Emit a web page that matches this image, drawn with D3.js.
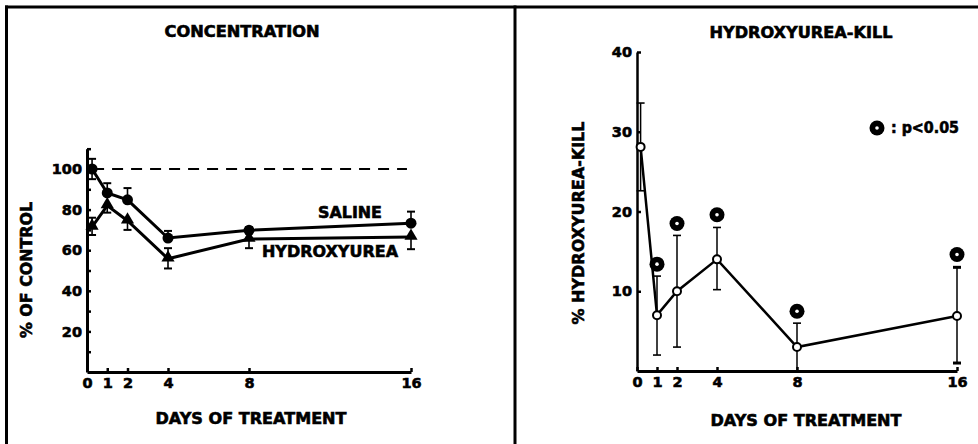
<!DOCTYPE html>
<html>
<head>
<meta charset="utf-8">
<script src="https://cdn.jsdelivr.net/npm/d3@7"></script>
<style>
  body { margin: 0; background: #fff; }
  svg { display: block; }
  text { font-family: "DejaVu Sans", sans-serif; font-weight: bold; fill: #000;
         stroke: #000; stroke-width: 0.6px; paint-order: stroke; }
  .axis path, .axis line { stroke: #000; }
  .axis text { font-size: 14.5px; font-family: "DejaVu Sans", sans-serif; font-weight: bold; }
</style>
</head>
<body>
<svg id="chart"></svg>
<script>
// days of treatment
var days = [0, 1, 2, 4, 8, 16];

// left panel: concentration, % of control
var salineMean = [100, 88.2, 84.8, 66, 69.8, 73.3];
var salineErrHi = [5, 4.8, 5.8, 3.5, 1.5, 5.7];
var salineErrLo = [5, 0, 0, 0, 0, 0];
var hydroxyMean = [71.5, 82, 74.5, 55.8, 65.5, 66.5];
var hydroxyErrHi = [4.5, 0, 0, 5.2, 0, 0];
var hydroxyErrLo = [4, 3.5, 4.5, 4.8, 4.5, 6];
var leftTicks = [10, 20, 30, 40, 50, 60, 70, 80, 90, 100, 110];

// right panel: % hydroxyurea-kill
var killMean = [28.1, 7, 10, 14, 3, 6.9];
var killHi = [33.6, 11.9, 17, 18, 6, 13];
var killLo = [22.6, 2, 3, 10.2, 0, 1];
var sigDays = [1, 2, 4, 8, 16];
var sigPos = [13.4, 18.5, 19.6, 7.5, 14.6];
var rightTicks = [10, 20, 30, 40];

var width = 978, height = 444;
var svg = d3.select("#chart").attr("width", width).attr("height", height);

// frame
svg.append("line").attr("x1", 5).attr("x2", 978).attr("y1", 7).attr("y2", 7)
  .attr("stroke", "#000").attr("stroke-width", 3);
svg.append("line").attr("x1", 6.5).attr("x2", 6.5).attr("y1", 5.5).attr("y2", 444)
  .attr("stroke", "#000").attr("stroke-width", 3);
svg.append("line").attr("x1", 515).attr("x2", 515).attr("y1", 5.5).attr("y2", 444)
  .attr("stroke", "#000").attr("stroke-width", 3);

function label(txt, x, y, size, len, rotate) {
  var t = svg.append("text")
    .attr("text-anchor", "middle")
    .attr("dominant-baseline", "central")
    .attr("font-size", size)
    .attr("textLength", len)
    .attr("lengthAdjust", "spacingAndGlyphs")
    .text(txt);
  if (rotate) t.attr("transform", "translate(" + x + "," + y + ") rotate(-90)");
  else t.attr("x", x).attr("y", y);
  return t;
}

// day 0 points sit just right of the y axis in the original plot
function px(x, d, off) { return x(d === 0 ? off : d); }

function errBars(g, x, y, means, hi, lo, w, off) {
  days.forEach(function(d, i) {
    var top = means[i] + hi[i], bot = means[i] - lo[i], cx = px(x, d, off);
    g.append("line").attr("x1", cx).attr("x2", cx)
      .attr("y1", y(top)).attr("y2", y(bot))
      .attr("stroke", "#000").attr("stroke-width", 1.6);
    if (hi[i] > 0) g.append("line").attr("x1", cx - 4).attr("x2", cx + 4)
      .attr("y1", y(top)).attr("y2", y(top)).attr("stroke", "#000").attr("stroke-width", w);
    if (lo[i] > 0) g.append("line").attr("x1", cx - 4).attr("x2", cx + 4)
      .attr("y1", y(bot)).attr("y2", y(bot)).attr("stroke", "#000").attr("stroke-width", w);
  });
}

// ---------- left panel ----------
var xL = d3.scaleLinear().domain([0, 16]).range([87, 411]);
var yL = d3.scaleLinear().domain([0, 110]).range([372, 372 - 110 * 2.03]);
var offL = 0.25;

var left = svg.append("g");

left.append("g").attr("class", "axis")
  .attr("transform", "translate(" + xL(0) + ",0)")
  .call(d3.axisLeft(yL).tickValues(leftTicks).tickSizeInner(-4).tickSizeOuter(0).tickPadding(5)
    .tickFormat(function(d) { return (d % 20 === 0 && d <= 100) ? d : ""; }))
  .call(function(g) {
    g.select(".domain").attr("stroke-width", 3);
    g.selectAll(".tick line").attr("stroke-width", 2.5);
  });

left.append("g").attr("class", "axis")
  .attr("transform", "translate(0," + yL(0) + ")")
  .call(d3.axisBottom(xL).tickValues(days).tickSizeInner(-4).tickSizeOuter(0).tickPadding(6))
  .call(function(g) {
    g.select(".domain").attr("stroke-width", 3);
    g.selectAll(".tick line").attr("stroke-width", 2.5);
  });

// control reference line at 100%
left.append("line")
  .attr("x1", xL(0.3)).attr("x2", xL(15.8))
  .attr("y1", yL(100)).attr("y2", yL(100))
  .attr("stroke", "#000").attr("stroke-width", 2.2)
  .attr("stroke-dasharray", "11,8");

var lineL = d3.line().x(function(d) { return px(xL, d[0], offL); }).y(function(d) { return yL(d[1]); });

errBars(left, xL, yL, salineMean, salineErrHi, salineErrLo, 2, offL);
errBars(left, xL, yL, hydroxyMean, hydroxyErrHi, hydroxyErrLo, 2, offL);

left.append("path").datum(d3.zip(days, salineMean)).attr("d", lineL)
  .attr("fill", "none").attr("stroke", "#000").attr("stroke-width", 3);
left.append("path").datum(d3.zip(days, hydroxyMean)).attr("d", lineL)
  .attr("fill", "none").attr("stroke", "#000").attr("stroke-width", 3);

left.selectAll(".sal").data(d3.zip(days, salineMean)).enter().append("circle")
  .attr("cx", function(d) { return px(xL, d[0], offL); })
  .attr("cy", function(d) { return yL(d[1]); })
  .attr("r", 5.5).attr("fill", "#000");

left.selectAll(".hyd").data(d3.zip(days, hydroxyMean)).enter().append("path")
  .attr("d", d3.symbol().type(d3.symbolTriangle).size(75))
  .attr("transform", function(d) { return "translate(" + px(xL, d[0], offL) + "," + (yL(d[1]) - 1) + ")"; })
  .attr("fill", "#000");

label("CONCENTRATION", 242, 32, 15, 155);
label("DAYS OF TREATMENT", 251, 419, 15.5, 191);
label("% OF CONTROL", 27, 270, 15.5, 136, true);
label("SALINE", 350, 213, 15.5, 64);
label("HYDROXYUREA", 330, 252, 15.5, 136);

// ---------- right panel ----------
var xR = d3.scaleLinear().domain([0, 16]).range([637, 957]);
var yR = d3.scaleLinear().domain([0, 40]).range([371, 52]);
var offR = 0.18;

var right = svg.append("g");

right.append("g").attr("class", "axis")
  .attr("transform", "translate(" + xR(0) + ",0)")
  .call(d3.axisLeft(yR).tickValues(rightTicks).tickSizeInner(-4).tickSizeOuter(0).tickPadding(5))
  .call(function(g) {
    g.select(".domain").attr("stroke-width", 2.5);
    g.selectAll(".tick line").attr("stroke-width", 2.5);
  });

right.append("g").attr("class", "axis")
  .attr("transform", "translate(0," + yR(0) + ")")
  .call(d3.axisBottom(xR).tickValues(days).tickSizeInner(-4).tickSizeOuter(0).tickPadding(6))
  .call(function(g) {
    g.select(".domain").attr("stroke-width", 3);
    g.selectAll(".tick line").attr("stroke-width", 2.5);
  });

var lineR = d3.line().x(function(d) { return px(xR, d[0], offR); }).y(function(d) { return yR(d[1]); });

days.forEach(function(d, i) {
  var cx = px(xR, d, offR);
  right.append("line").attr("x1", cx).attr("x2", cx)
    .attr("y1", yR(killHi[i])).attr("y2", yR(killLo[i]))
    .attr("stroke", "#000").attr("stroke-width", 1.5);
  right.append("line").attr("x1", cx - 4).attr("x2", cx + 4)
    .attr("y1", yR(killHi[i])).attr("y2", yR(killHi[i]))
    .attr("stroke", "#000").attr("stroke-width", d === 16 ? 3 : 1.6);
  if (killLo[i] > 0) right.append("line").attr("x1", cx - 4).attr("x2", cx + 4)
    .attr("y1", yR(killLo[i])).attr("y2", yR(killLo[i]))
    .attr("stroke", "#000").attr("stroke-width", d === 16 ? 3 : 1.6);
});

right.append("path").datum(d3.zip(days, killMean)).attr("d", lineR)
  .attr("fill", "none").attr("stroke", "#000").attr("stroke-width", 2.5);

right.selectAll(".kill").data(d3.zip(days, killMean)).enter().append("circle")
  .attr("cx", function(d) { return px(xR, d[0], offR); })
  .attr("cy", function(d) { return yR(d[1]); })
  .attr("r", 4).attr("fill", "#fff").attr("stroke", "#000").attr("stroke-width", 2);

var sig = right.selectAll(".sig").data(d3.zip(sigDays, sigPos)).enter().append("g")
  .attr("transform", function(d) { return "translate(" + xR(d[0]) + "," + yR(d[1]) + ")"; });
sig.append("circle").attr("r", 7.5).attr("fill", "#000");
sig.append("circle").attr("r", 1.8).attr("fill", "#fff");

// legend
var leg = right.append("g").attr("transform", "translate(877,128)");
leg.append("circle").attr("r", 7.5).attr("fill", "#000");
leg.append("circle").attr("r", 1.8).attr("fill", "#fff");
leg.append("text").attr("x", 14).attr("y", 0).attr("dominant-baseline", "central")
  .attr("font-size", 15).attr("textLength", 68).attr("lengthAdjust", "spacingAndGlyphs")
  .text(": p<0.05");

label("HYDROXYUREA-KILL", 801, 33, 15, 183);
label("DAYS OF TREATMENT", 806, 421, 15.5, 191);
label("% HYDROXYUREA-KILL", 579, 223, 15.5, 203, true);
</script>
</body>
</html>
